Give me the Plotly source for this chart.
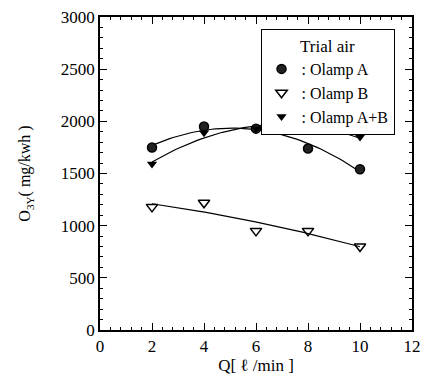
import numpy as np
import plotly.graph_objects as go

q = [2, 4, 6, 8, 10]
olamp_a = [1750, 1950, 1930, 1740, 1540]
olamp_b = [1180, 1220, 950, 950, 800]
olamp_ab = [1590, 1890, 1930, 1940, 1850]

x_ticks = [0, 2, 4, 6, 8, 10, 12]
y_ticks = [0, 500, 1000, 1500, 2000, 2500, 3000]

font = "Liberation Serif"
fig = go.Figure()

xs = np.linspace(2, 10, 60)
for ys in (olamp_a, olamp_b, olamp_ab):
    c = np.polyfit(q, ys, 2)
    fig.add_trace(go.Scatter(x=xs, y=np.polyval(c, xs), mode="lines",
                             line=dict(color="black", width=1.2),
                             showlegend=False, hoverinfo="skip"))

fig.add_trace(go.Scatter(x=q, y=olamp_a, mode="markers", name=": Olamp A",
                         marker=dict(symbol="circle", size=9, color="#222",
                                     line=dict(color="black", width=1.5))))
fig.add_trace(go.Scatter(x=q, y=olamp_b, mode="markers", name=": Olamp B",
                         marker=dict(symbol="triangle-down-open", size=10, color="black",
                                     line=dict(width=1.5))))
fig.add_trace(go.Scatter(x=q, y=olamp_ab, mode="markers", name=": Olamp A+B",
                         marker=dict(symbol="triangle-down", size=9, color="black")))

axis_common = dict(showgrid=False, zeroline=False, showline=True, linecolor="black",
                   linewidth=1.5, mirror="allticks", ticks="inside", ticklen=7,
                   tickcolor="black", tickwidth=1.2,
                   tickfont=dict(family=font, size=17, color="black"))
fig.update_xaxes(range=[0, 12], tickvals=x_ticks, ticktext=[str(v) for v in x_ticks],
                 minor=dict(ticks="inside", ticklen=3, dtick=0.4, tickcolor="black"),
                 title=dict(text="Q[ \u2113 /min ]", font=dict(family=font, size=17, color="black"),
                            standoff=2),
                 **axis_common)
fig.update_yaxes(range=[0, 3000], tickvals=y_ticks, ticktext=[str(v) for v in y_ticks],
                 minor=dict(ticks="inside", ticklen=3, dtick=100, tickcolor="black"),
                 title=dict(text="O<sub>3Y</sub>( mg/kwh )", font=dict(family=font, size=16, color="black"),
                            standoff=26),
                 **axis_common)

fig.update_layout(
    width=429, height=380,
    margin=dict(l=100, r=8, t=16, b=50),
    paper_bgcolor="white", plot_bgcolor="white",
    font=dict(family=font, size=16, color="black"),
    legend=dict(x=0.944, y=0.962, xanchor="right", yanchor="top",
                bordercolor="black", borderwidth=1, bgcolor="white",
                title=dict(text="Trial air", side="top center",
                           font=dict(family=font, size=17)),
                font=dict(family=font, size=16), itemwidth=30,
                tracegroupgap=0),
)

fig.write_html("out.html")
